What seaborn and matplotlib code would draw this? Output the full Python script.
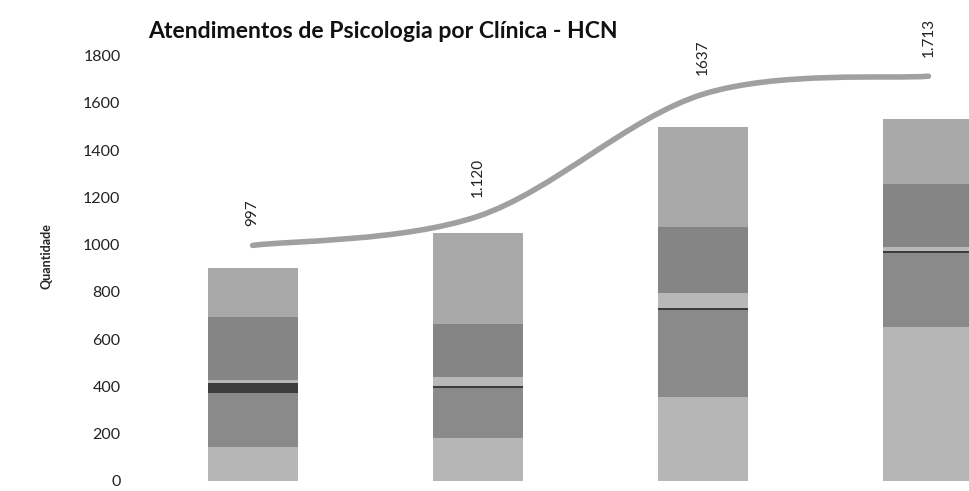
import numpy as np
import matplotlib.pyplot as plt
import seaborn as sns
from matplotlib.path import Path
from matplotlib.patches import PathPatch

sns.set_style('white')
plt.rcParams['font.family'] = ['Lato', 'DejaVu Sans']

# four groups (x labels are not printed in the original)
groups = ['1', '2', '3', '4']

# stacked segments, bottom to top
seg_a = [145, 180, 355, 650]
seg_b = [228, 214, 369, 315]
seg_c = [42, 8, 10, 10]
seg_d = [12, 38, 60, 15]
seg_e = [267, 224, 279, 268]
seg_f = [206, 385, 425, 272]
segments = [seg_a, seg_b, seg_c, seg_d, seg_e, seg_f]
seg_colors = ['#b6b6b6', '#8a8a8a', '#3c3c3c', '#b8b8b8', '#858585', '#a9a9a9']

# total line and its labels
totals = [997, 1120, 1637, 1713]
total_labels = ['997', '1.120', '1637', '1.713']

fig = plt.figure(figsize=(9.69, 4.91), dpi=100)
ax = fig.add_axes([140 / 969, 10 / 491, 829 / 969, 449 / 491])

x = np.arange(len(groups))
bottom = np.zeros(len(groups))
for vals, col in zip(segments, seg_colors):
    ax.bar(x, vals, width=0.4, bottom=bottom, color=col, edgecolor='none')
    bottom += np.array(vals)

# smoothed line like excel (bezier through the points)
pts = np.column_stack([x, totals]).astype(float)
verts = [pts[0]]
codes = [Path.MOVETO]
for i in range(len(pts) - 1):
    p0 = pts[max(i - 1, 0)]
    p1 = pts[i]
    p2 = pts[i + 1]
    p3 = pts[min(i + 2, len(pts) - 1)]
    verts += [p1 + (p2 - p0) / 6, p2 - (p3 - p1) / 6, p2]
    codes += [Path.CURVE4] * 3
ax.add_patch(PathPatch(Path(verts, codes), facecolor='none',
                       edgecolor='#a0a0a0', linewidth=4, capstyle='round'))

for xi, yi, lab in zip(x, totals, total_labels):
    ax.annotate(lab, (xi, yi), xytext=(0, 14), textcoords='offset points',
                rotation=90, ha='center', va='bottom', fontsize=11, color='#222222')

ax.set_xlim(-0.5, 3.18)
ax.set_ylim(0, 1900)
ax.set_yticks(range(0, 1801, 200))
ax.set_xticks([])
ax.tick_params(axis='y', labelsize=11.5, length=0, pad=14, labelcolor='#222222')
for s in ax.spines.values():
    s.set_visible(False)

ax.set_ylabel('Quantidade', fontsize=9, fontweight='bold', labelpad=22)
fig.text(148 / 969, 1 - 31 / 491, 'Atendimentos de Psicologia por Clínica - HCN',
         fontsize=16.6, fontweight='bold', ha='left', va='center', color='#111111')

plt.savefig('out.png')
plt.close()
